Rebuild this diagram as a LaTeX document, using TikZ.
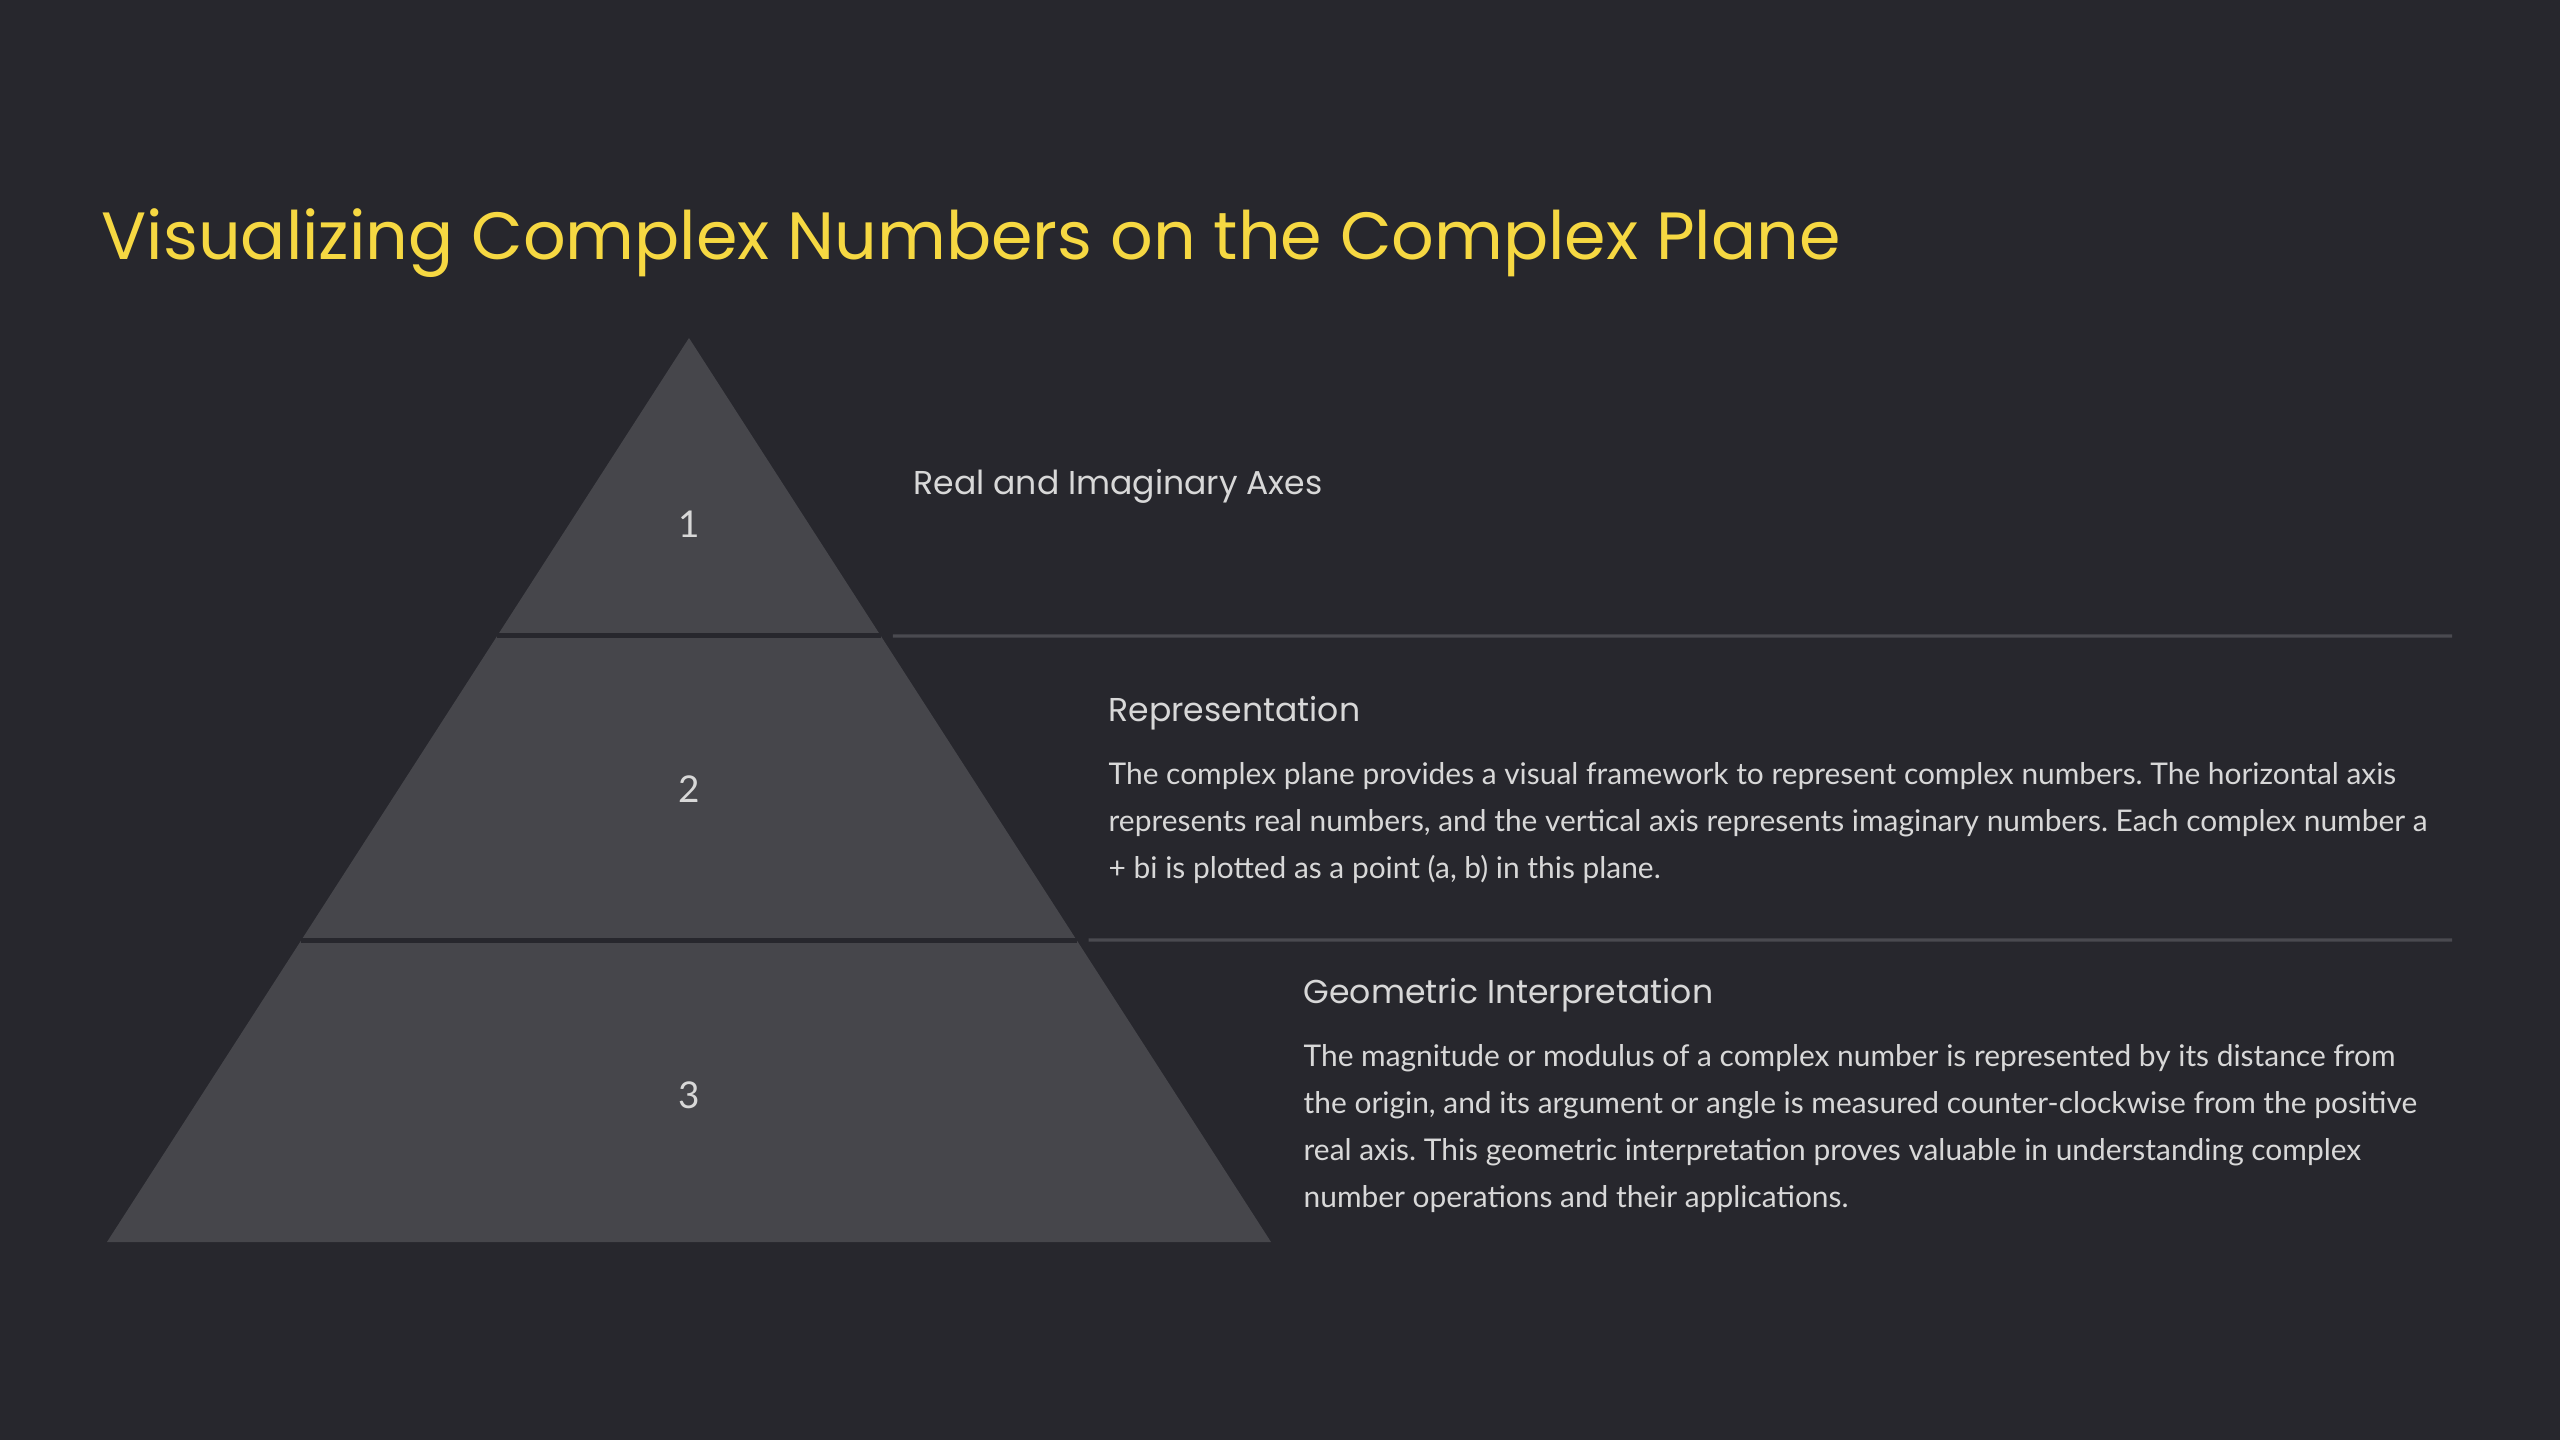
\documentclass[tikz,border=0pt]{standalone}
\usepackage{fontspec}
\setmainfont{Lato}
\newfontfamily\headfont{Poppins}
\usetikzlibrary{calc}
\definecolor{bgcol}{HTML}{27272D}
\definecolor{tiercol}{HTML}{46464B}
\definecolor{titlecol}{HTML}{F6D842}
\definecolor{textcol}{HTML}{D8D8D8}
\definecolor{sepcol}{HTML}{4A4A50}

\tikzset{
  tier/.style={fill=tiercol},
  gapline/.style={draw=bgcol, line width=1.4pt},
  sepline/.style={draw=sepcol, line width=0.9pt},
  tiernum/.style={text=textcol, font=\fontsize{10.5}{12}\selectfont, inner sep=0pt, anchor=base},
  heading/.style={text=textcol, font=\headfont\fontsize{9.4}{11}\selectfont, inner sep=0pt, anchor=base west},
  bodytext/.style={text=textcol, font=\fontsize{8.5}{13.3}\selectfont\frenchspacing, inner sep=0pt, anchor=north west, align=left},
}

\begin{document}
\begin{tikzpicture}[x=0.01cm,y=-0.01cm]
	\fill[bgcol] (0,0) rectangle (2560,1440);
	\useasboundingbox (0,0) rectangle (2560,1440);

	% title
	\node[text=titlecol, font=\headfont\fontsize{19}{22}\selectfont, inner sep=0pt, anchor=base west] (title) at (101,260) {Visualizing Complex Numbers on the Complex Plane};

	% pyramid
	\coordinate (apex) at (689,338);
	\coordinate (baseL) at (107,1242);
	\coordinate (baseR) at (1271,1242);
	\fill[tier] (apex) -- (baseR) -- (baseL) -- cycle;
	\coordinate (cutAL) at ($(apex)!0.3296!(baseL)$);
	\coordinate (cutAR) at ($(apex)!0.3296!(baseR)$);
	\coordinate (cutBL) at ($(apex)!0.666!(baseL)$);
	\coordinate (cutBR) at ($(apex)!0.666!(baseR)$);
	\draw[gapline] (cutAL) -- (cutAR);
	\draw[gapline] (cutBL) -- (cutBR);
	\node[tiernum] (num1) at (689,538) {1};
	\node[tiernum] (num2) at (689,803) {2};
	\node[tiernum] (num3) at (689,1108) {3};

	% separators
	\coordinate (sepAend) at (2452,636);
	\coordinate (sepBend) at (2452,940);
	\draw[sepline] ($(cutAR)+(12,0)$) -- (sepAend);
	\draw[sepline] ($(cutBR)+(12,0)$) -- (sepBend);

	% texts
	\node[heading] (head1) at (913,495) {Real and Imaginary Axes};
	\node[heading] (head2) at (1108,722) {Representation};
	\node[bodytext] (body2) at (1108,762) {The complex plane provides a visual framework to represent complex numbers. The horizontal axis\\represents real numbers, and the vertical axis represents imaginary numbers. Each complex number a\\+ bi is plotted as a point (a, b) in this plane.};
	\node[heading] (head3) at (1303,1003) {Geometric Interpretation};
	\node[bodytext] (body3) at (1303,1044) {The magnitude or modulus of a complex number is represented by its distance from\\the origin, and its argument or angle is measured counter-clockwise from the positive\\real axis. This geometric interpretation proves valuable in understanding complex\\number operations and their applications.};
\end{tikzpicture}
\end{document}
